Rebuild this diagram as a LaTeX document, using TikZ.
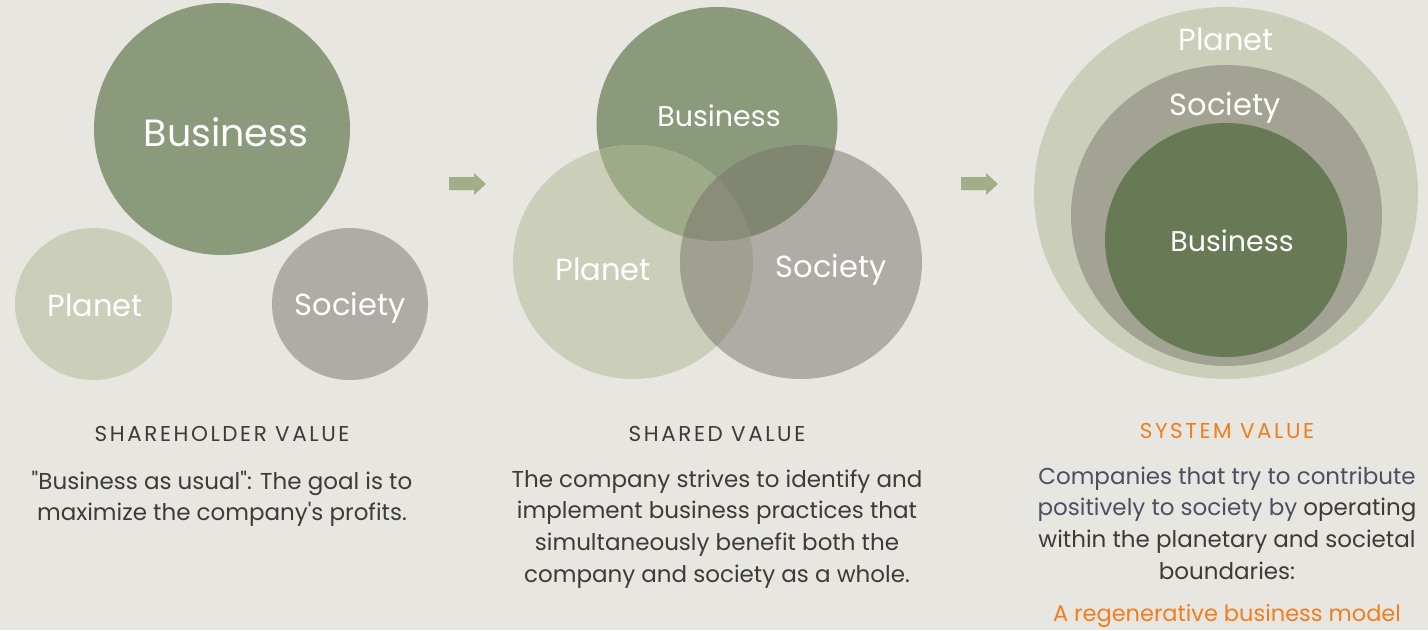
\documentclass[tikz,border=0pt]{standalone}
\usepackage{fontspec}
\setmainfont{Poppins}[Ligatures=TeXOff]
\definecolor{bg}{HTML}{E8E6E1}
\definecolor{cbus}{HTML}{8A9A7B}
\definecolor{cplan}{HTML}{CBCFBA}
\definecolor{csoc}{HTML}{AEACA5}
\definecolor{cbp}{HTML}{9EAB88}
\definecolor{cbs}{HTML}{80866F}
\definecolor{cps}{HTML}{A0A090}
\definecolor{cbps}{HTML}{8A8E78}
\definecolor{csoc3}{HTML}{A3A393}
\definecolor{cbus3}{HTML}{687A55}
\definecolor{carrow}{HTML}{A3AE88}
\definecolor{txt}{HTML}{3B3B38}
\definecolor{slate}{HTML}{4A5060}
\definecolor{orng}{HTML}{F07D1E}
\tikzset{
  lbl/.style={text=white, inner sep=0pt, anchor=center},
  lblA/.style={lbl, font=\fontsize{30.5}{32}\selectfont},
  lblB/.style={lbl, font=\fontsize{28.5}{32}\selectfont},
  ttl/.style={text=txt, font=\fontsize{21.5}{24}\selectfont\addfontfeature{LetterSpace=12}, inner sep=0pt},
  body/.style={text=txt, font=\fontsize{23}{31.7}\selectfont, align=center, inner sep=0pt, anchor=north},
}
\begin{document}
\begin{tikzpicture}[x=1pt,y=-1pt]
\fill[bg] (0,0) rectangle (1428,630);
\useasboundingbox (0,0) rectangle (1428,630);
% Panel 1
\fill[cbus] (222,129) ellipse (128 and 126);
\fill[cplan] (93.5,304) ellipse (78.5 and 76);
\fill[csoc] (350,304) ellipse (78 and 76);
\node[lbl, font=\fontsize{38}{40}\selectfont] (b1) at (226,132) {Business};
\node[lblA] (p1) at (95,305) {Planet};
\node[lblA] (s1) at (350,308) {Society};
% arrow 1
\fill[carrow] (449,177) -- (474,177) -- (474,173) -- (486,184) -- (474,195) -- (474,190) -- (449,190) -- cycle;
% Panel 2
\fill[cbus] (717,124) ellipse (120.5 and 117);
\fill[cplan] (633,262) ellipse (120 and 117);
\fill[csoc] (801,262) ellipse (121 and 117);
\begin{scope}
  \clip (717,124) ellipse (120.5 and 117);
  \fill[cbp] (633,262) ellipse (120 and 117);
  \fill[cbs] (801,262) ellipse (121 and 117);
\end{scope}
\begin{scope}
  \clip (633,262) ellipse (120 and 117);
  \fill[cps] (801,262) ellipse (121 and 117);
  \clip (717,124) ellipse (120.5 and 117);
  \fill[cbps] (801,262) ellipse (121 and 117);
\end{scope}
\node[lblB] (b2) at (719,116) {Business};
\node[lblA] (p2) at (603,269) {Planet};
\node[lblA] (s2) at (831,270) {Society};
% arrow 2
\fill[carrow] (961,177) -- (986,177) -- (986,173) -- (998,184) -- (986,195) -- (986,190) -- (961,190) -- cycle;
% Panel 3
\fill[cplan] (1226,193) ellipse (192 and 186);
\fill[csoc3] (1226.5,215.5) ellipse (155.5 and 150.5);
\fill[cbus3] (1226,240) ellipse (121 and 117);
\node[lblA] (p3) at (1226,39) {Planet};
\node[lblA] (s3) at (1225,108) {Society};
\node[lblB] (b3) at (1232,241) {Business};
% texts
\node[ttl] (t1) at (222,434) {SHAREHOLDER VALUE};
\node[ttl] (t2) at (717,434) {SHARED VALUE};
\node[ttl, text=orng] (t3) at (1227,431) {SYSTEM VALUE};
\node[body] (d1) at (222,470.5) {"Business as usual": The goal is to\\maximize the company's profits.};
\node[body] (d2) at (717,469.5) {The company strives to identify and\\implement business practices that\\simultaneously benefit both the\\company and society as a whole.};
\node[body] (d3) at (1227,466.5) {\textcolor{slate}{Companies that try to contribute}\\\textcolor{slate}{positively to society by} operating\\within the planetary and societal\\boundaries:};
\node[body, text=orng, anchor=center, font=\fontsize{22.5}{30}\selectfont] (d4) at (1227,616) {A regenerative business model};
\end{tikzpicture}
\end{document}
